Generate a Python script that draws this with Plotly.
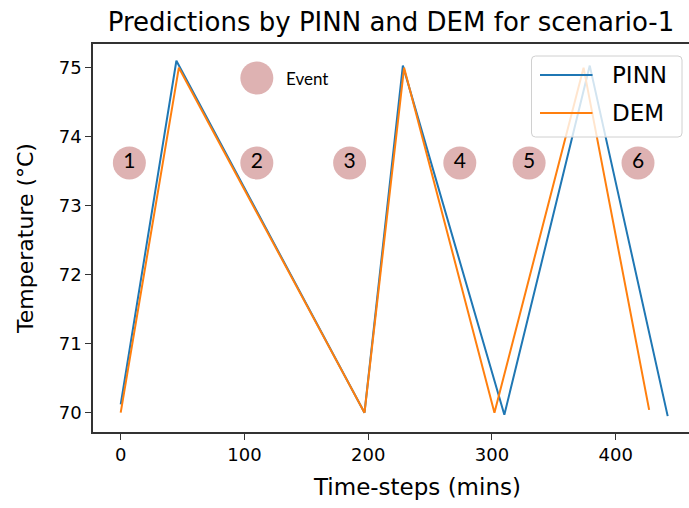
import plotly.graph_objects as go

# Predicted temperature profiles (time in minutes, temperature in °C)
pinn_t = [0, 45, 197, 228, 310, 379, 442]
pinn_temp = [70.12, 75.1, 70.0, 75.03, 69.97, 75.03, 69.95]

dem_t = [0, 47, 197, 229, 302, 374, 427]
dem_temp = [70.0, 75.0, 70.0, 75.0, 70.0, 75.0, 70.04]

series_names = ["PINN", "DEM"]
series_colors = ["#1f77b4", "#ff7f0e"]

# Event markers
event_labels = ["1", "2", "3", "4", "5", "6"]
event_t = [7, 110, 185, 274, 330, 418]
event_temp = [73.62, 73.62, 73.62, 73.62, 73.62, 73.62]
event_key_t = [110]
event_key_temp = [74.85]

FONT = "DejaVu Sans, sans-serif"
EVENT_FONT = "Lato, Open Sans, sans-serif"
EVENT_COLOR = "rgb(222,178,178)"

W, H = 689, 508
ML, MR, MT, MB = 93, 0, 44, 76
PW, PH = W - ML - MR, H - MT - MB


def px_x(px):
    return (px - ML) / PW


def px_y(py):
    return (H - MB - py) / PH


fig = go.Figure()

for t, temp, name, color in [(pinn_t, pinn_temp, series_names[0], series_colors[0]),
                             (dem_t, dem_temp, series_names[1], series_colors[1])]:
    fig.add_trace(go.Scatter(
        x=t, y=temp, mode="lines", name=name,
        line=dict(color=color, width=2), showlegend=False,
    ))

fig.add_trace(go.Scatter(
    x=event_t, y=event_temp, mode="markers+text", text=event_labels,
    textposition="middle center",
    textfont=dict(family=EVENT_FONT, size=21, color="black"),
    marker=dict(size=33, color=EVENT_COLOR, line=dict(width=0)),
    showlegend=False, hoverinfo="skip",
))
fig.add_trace(go.Scatter(
    x=event_key_t, y=event_key_temp, mode="markers",
    marker=dict(size=33, color=EVENT_COLOR, line=dict(width=0)),
    showlegend=False, hoverinfo="skip",
))

annotations = [
    dict(text="Event", x=event_key_t[0], y=event_key_temp[0],
         xref="x", yref="y", xanchor="left", yanchor="middle",
         xshift=27, showarrow=False,
         font=dict(family=EVENT_FONT, size=17, color="black")),
    # x-axis title
    dict(text="Time-steps (mins)", xref="paper", yref="paper",
         x=px_x(417), y=px_y(487), xanchor="center", yanchor="middle",
         showarrow=False, font=dict(family=FONT, size=23, color="black")),
]

# Legend panel: rounded, semi-transparent box with line keys
bx0, bx1, by0, by1 = px_x(531.5), px_x(682), px_y(137), px_y(56)
rx, ry = 4 / PW, 4 / PH
box_path = (
    f"M {bx0 + rx},{by0} L {bx1 - rx},{by0} Q {bx1},{by0} {bx1},{by0 + ry} "
    f"L {bx1},{by1 - ry} Q {bx1},{by1} {bx1 - rx},{by1} "
    f"L {bx0 + rx},{by1} Q {bx0},{by1} {bx0},{by1 - ry} "
    f"L {bx0},{by0 + ry} Q {bx0},{by0} {bx0 + rx},{by0} Z"
)
shapes = [dict(type="path", path=box_path, xref="paper", yref="paper",
               fillcolor="rgba(255,255,255,0.8)", line=dict(color="#d0d0d0", width=1),
               layer="above")]
for i, (name, color) in enumerate(zip(series_names, series_colors)):
    ly = px_y(75 + i * 38)
    shapes.append(dict(type="line", xref="paper", yref="paper",
                       x0=px_x(540), x1=px_x(592.5), y0=ly, y1=ly,
                       line=dict(color=color, width=2), layer="above"))
    annotations.append(dict(text=name, xref="paper", yref="paper",
                            x=px_x(610), y=ly, xanchor="left", yanchor="middle",
                            showarrow=False,
                            font=dict(family=FONT, size=23, color="black")))

fig.update_layout(
    width=W, height=H,
    margin=dict(l=ML, r=MR, t=MT, b=MB),
    paper_bgcolor="white", plot_bgcolor="white",
    font=dict(family=FONT, color="black"),
    title=dict(
        text="Predictions by PINN and DEM for scenario-1",
        x=(ML + W) / 2 / W, xanchor="center",
        y=1 - 22 / H, yanchor="middle",
        font=dict(size=26, color="black", family=FONT),
    ),
    shapes=shapes,
    annotations=annotations,
    showlegend=False,
)

fig.update_xaxes(
    range=[-22.38, 459.2],
    tickvals=[0, 100, 200, 300, 400],
    showgrid=False, zeroline=False,
    showline=True, linecolor="#333333", linewidth=1.5, mirror=True,
    ticks="outside", ticklen=6, tickcolor="#333333",
    tickfont=dict(size=18, family=FONT, color="black"),
)
fig.update_yaxes(
    range=[69.72, 75.343],
    tickvals=[70, 71, 72, 73, 74, 75],
    showgrid=False, zeroline=False,
    showline=True, linecolor="#333333", linewidth=1.5, mirror=False,
    ticks="outside", ticklen=6, tickcolor="#333333",
    tickfont=dict(size=18, family=FONT, color="black"),
    title=dict(text="Temperature (°C)", font=dict(size=22, family=FONT, color="black"), standoff=19),
)

fig.write_html("out.html")
